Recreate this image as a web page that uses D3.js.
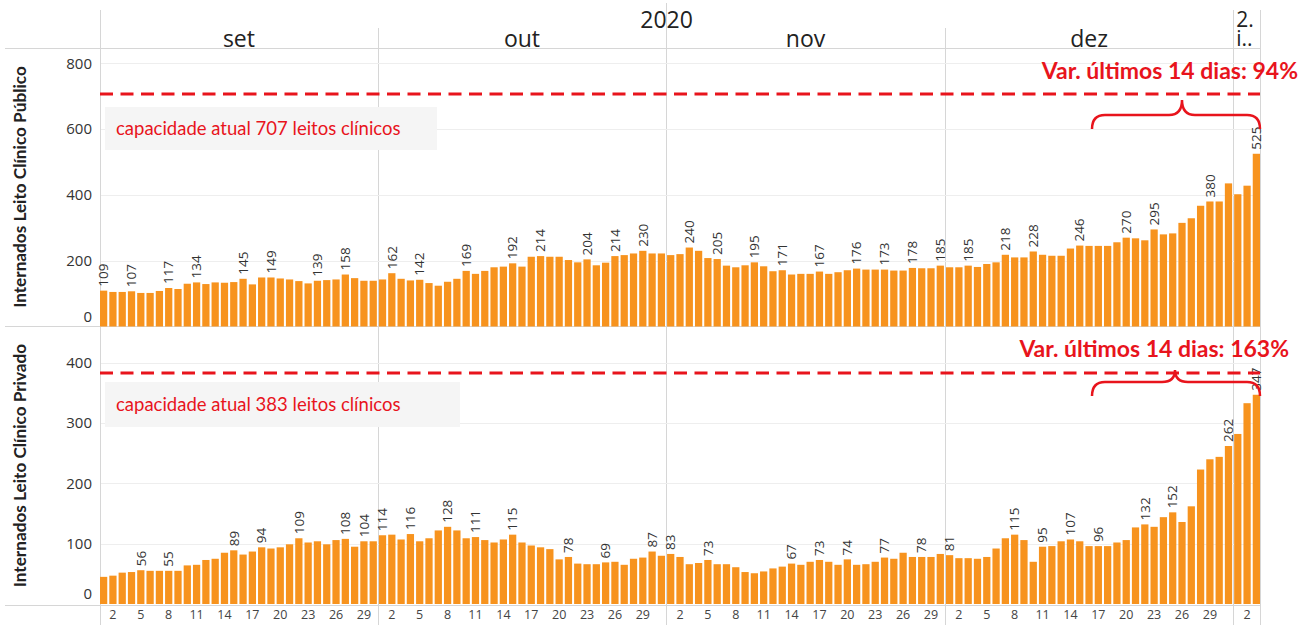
<!DOCTYPE html>
<html>
<head>
<meta charset="utf-8">
<script src="https://cdn.jsdelivr.net/npm/d3@7"></script>
<style>
  body { margin: 0; background: #fff; }
  svg { display: block; }
</style>
</head>
<body>
<svg id="chart" width="1311" height="625"></svg>
<script>
// daily values, 1 set 2020 .. 3 jan 2021
var publico = [
  109, 105, 105, 107, 102, 102, 108, 117, 114, 130,
  134, 129, 134, 133, 135, 145, 128, 149, 149, 146,
  143, 138, 131, 139, 141, 143, 158, 147, 139, 139,
  143, 162, 145, 140, 142, 132, 124, 136, 145, 169,
  160, 169, 180, 182, 192, 182, 212, 214, 212, 212,
  202, 195, 204, 186, 194, 214, 217, 222, 230, 222,
  222, 217, 220, 240, 230, 208, 205, 185, 180, 186,
  195, 183, 168, 171, 158, 160, 160, 167, 160, 165,
  171, 176, 173, 173, 173, 170, 170, 178, 177, 177,
  185, 180, 180, 185, 181, 190, 195, 218, 210, 210,
  228, 218, 215, 215, 237, 246, 245, 245, 245, 256,
  270, 268, 262, 295, 280, 283, 315, 329, 367, 380,
  380, 435, 402, 428, 525
];
var privado = [
  45, 47, 52, 53, 56, 55, 55, 55, 55, 64,
  65, 73, 75, 85, 89, 82, 87, 94, 92, 94,
  99, 109, 102, 104, 99, 106, 108, 95, 104, 104,
  114, 115, 107, 116, 104, 109, 122, 128, 122, 109,
  111, 106, 102, 107, 115, 102, 97, 94, 91, 74,
  78, 67, 66, 66, 69, 70, 65, 75, 77, 87,
  80, 83, 78, 66, 68, 73, 66, 66, 61, 53,
  51, 54, 59, 62, 67, 65, 70, 73, 70, 65,
  74, 65, 66, 70, 77, 75, 85, 78, 78, 78,
  83, 81, 76, 76, 75, 78, 92, 109, 115, 106,
  70, 95, 96, 104, 107, 104, 96, 96, 96, 102,
  106, 127, 132, 128, 144, 152, 136, 162, 223, 240,
  244, 262, 282, 333, 347
];

// which days carry a value label (index into the arrays above)
var labelsPublico = [0, 3, 7, 10, 15, 18, 23, 26, 31, 34, 39, 44, 47, 52, 55, 58, 63, 66, 70,
  73, 77, 81, 84, 87, 90, 93, 97, 100, 105, 110, 113, 119, 124];
var labelsPrivado = [4, 7, 14, 17, 21, 26, 28, 30, 33, 37, 40, 44, 50, 54, 59, 61, 65, 74, 77,
  80, 84, 88, 91, 98, 101, 104, 107, 112, 115, 121, 124];

var monthNames = ["set", "out", "nov", "dez", "i.."];
var yearNames = ["2020", "2."];
var ticksPublico = [0, 200, 400, 600, 800];
var ticksPrivado = [0, 100, 200, 300, 400];
var dayTicks = [2, 5, 8, 11, 14, 17, 20, 23, 26, 29];
var capPublico = 707, capPrivado = 383;
var varPublico = "Var. últimos 14 dias: 94%";
var varPrivado = "Var. últimos 14 dias: 163%";

var days = d3.timeDay.range(new Date(2020, 8, 1), new Date(2021, 0, 4));

var svg = d3.select("#chart");
var W = 1311, H = 625;
var left = 100, right = 1260;
var lineCol = "#d6d6d6", red = "#e8141c", orange = "#f7931e", txt = "#333";

var x = d3.scaleBand()
    .domain(d3.range(days.length))
    .range([left, right])
    .paddingInner(0.22)
    .paddingOuter(0)
    .align(0);
var gap = x.step() - x.bandwidth();

var panels = [
  { title: "Internados Leito Clínico Público", values: publico, labels: labelsPublico,
    ticks: ticksPublico, top: 48, bottom: 326,
    y: d3.scaleLinear().domain([0, 800]).range([326.5, 63.3]),
    cap: capPublico, capText: "capacidade atual " + capPublico + " leitos clínicos",
    box: [105, 107, 332, 43], varText: varPublico, varX: 1298, varY: 79,
    brace: { x1: 1092, x2: 1260, tip: 1182, yt: 100, ym: 115, yb: 129 } },
  { title: "Internados Leito Clínico Privado", values: privado, labels: labelsPrivado,
    ticks: ticksPrivado, top: 326, bottom: 605,
    y: d3.scaleLinear().domain([0, 400]).range([604, 362.8]),
    cap: capPrivado, capText: "capacidade atual " + capPrivado + " leitos clínicos",
    box: [105, 382, 355, 45], varText: varPrivado, varX: 1289, varY: 357,
    brace: { x1: 1092, x2: 1260, tip: 1175, yt: 370, ym: 382, yb: 396 } }
];

// header: year + month names
var monthStarts = [];
days.forEach(function(d, i) { if (d.getDate() === 1) monthStarts.push(i); });
var bandLeft = function(i) { return i >= days.length ? right : x(i) - (i === 0 ? 0 : gap / 2); };

var head = svg.append("g").attr("font-family", "'Open Sans', sans-serif").attr("fill", "#222");
var janX = bandLeft(monthStarts[4]);
head.append("text").attr("x", (left + janX) / 2).attr("y", 28)
    .attr("text-anchor", "middle").attr("font-size", 23).text(yearNames[0]);
head.append("text").attr("x", janX + 3).attr("y", 27).attr("font-size", 21).text(yearNames[1]);
monthStarts.forEach(function(s, k) {
  var x0 = bandLeft(s), x1 = bandLeft(k + 1 < monthStarts.length ? monthStarts[k + 1] : days.length);
  if (k < 4) {
    head.append("text").attr("x", (x0 + x1) / 2).attr("y", 47)
        .attr("text-anchor", "middle").attr("font-size", 23).text(monthNames[k]);
  } else {
    head.append("text").attr("x", x0 + 3).attr("y", 46).attr("font-size", 21).text(monthNames[k]);
  }
});

// frame lines
var frame = svg.append("g").attr("stroke", lineCol).attr("stroke-width", 1).attr("shape-rendering", "crispEdges");
[48, 326, 605].forEach(function(yy) {
  frame.append("line").attr("x1", 5).attr("x2", right).attr("y1", yy).attr("y2", yy);
});
frame.append("line").attr("x1", left).attr("x2", left).attr("y1", 10).attr("y2", H);
frame.append("line").attr("x1", right).attr("x2", right).attr("y1", 10).attr("y2", H);
monthStarts.slice(1).forEach(function(s, k) {
  var xx = Math.round(bandLeft(s)) + 0.5;
  var y0 = (k === 1) ? 3 : (k === 3 ? 10 : 28);
  frame.append("line").attr("x1", xx).attr("x2", xx).attr("y1", y0).attr("y2", H);
});

panels.forEach(function(p) {
  var g = svg.append("g");

  // gridlines
  g.append("g").selectAll("line").data(p.ticks.slice(1)).join("line")
      .attr("x1", left + 1).attr("x2", right)
      .attr("y1", function(d) { return Math.round(p.y(d)) + 0.5; })
      .attr("y2", function(d) { return Math.round(p.y(d)) + 0.5; })
      .attr("stroke", "#eeeeee");

  // y axis
  var ax = g.append("g").attr("transform", "translate(92,0)")
      .call(d3.axisLeft(p.y).tickValues(p.ticks).tickSize(0).tickPadding(0));
  ax.select(".domain").remove();
  ax.selectAll("text")
      .attr("font-family", "'Open Sans', sans-serif").attr("font-size", 15).attr("fill", txt)
      .attr("dy", function(d) { return d === 0 ? "-0.35em" : "0.32em"; });

  // axis title
  g.append("text")
      .attr("transform", "translate(20," + ((p.top + p.bottom) / 2) + ") rotate(-90)")
      .attr("text-anchor", "middle").attr("dy", "0.35em")
      .attr("font-family", "Lato, sans-serif").attr("font-weight", "bold")
      .attr("font-size", 17.2).attr("fill", "#222")
      .text(p.title);

  // capacity box + text
  g.append("rect").attr("x", p.box[0]).attr("y", p.box[1]).attr("width", p.box[2]).attr("height", p.box[3])
      .attr("fill", "#f5f5f5");
  g.append("text").attr("x", p.box[0] + 11).attr("y", p.box[1] + p.box[3] / 2).attr("dy", "0.35em")
      .attr("font-family", "Lato, sans-serif").attr("font-size", 18.5).attr("fill", red)
      .text(p.capText);

  // bars
  g.append("g").selectAll("rect").data(p.values).join("rect")
      .attr("x", function(d, i) { return x(i); })
      .attr("width", x.bandwidth())
      .attr("y", function(d) { return p.y(d); })
      .attr("height", function(d) { return p.y(0) - p.y(d); })
      .attr("fill", orange);

  // bar labels
  g.append("g").selectAll("text").data(p.labels).join("text")
      .attr("transform", function(i) {
        return "translate(" + (x(i) + x.bandwidth() / 2) + "," + (p.y(p.values[i]) - 4) + ") rotate(-90)";
      })
      .attr("dy", "0.35em")
      .attr("font-family", "'Open Sans', sans-serif").attr("font-size", 13.5).attr("fill", txt)
      .text(function(i) { return p.values[i]; });

  // capacity line
  g.append("line").attr("x1", left).attr("x2", right)
      .attr("y1", p.y(p.cap)).attr("y2", p.y(p.cap))
      .attr("stroke", red).attr("stroke-width", 3).attr("stroke-dasharray", "13,7.5");

  // brace + variation text
  var b = p.brace, r = 13;
  var path = "M" + b.x1 + "," + b.yb +
    " Q" + b.x1 + "," + b.ym + " " + (b.x1 + r) + "," + b.ym +
    " L" + (b.tip - r) + "," + b.ym +
    " Q" + b.tip + "," + b.ym + " " + b.tip + "," + b.yt +
    " Q" + b.tip + "," + b.ym + " " + (b.tip + r) + "," + b.ym +
    " L" + (b.x2 - r) + "," + b.ym +
    " Q" + b.x2 + "," + b.ym + " " + b.x2 + "," + b.yb;
  g.append("path").attr("d", path).attr("fill", "none")
      .attr("stroke", red).attr("stroke-width", 2.5);
  g.append("text").attr("x", p.varX).attr("y", p.varY).attr("text-anchor", "end")
      .attr("font-family", "Lato, sans-serif").attr("font-weight", "bold")
      .attr("font-size", 23).attr("fill", red)
      .text(p.varText);
});

// day ticks at the bottom
var xa = svg.append("g").attr("transform", "translate(0,606)")
    .call(d3.axisBottom(x)
      .tickValues(d3.range(days.length).filter(function(i) { return dayTicks.indexOf(days[i].getDate()) >= 0; }))
      .tickFormat(function(i) { return days[i].getDate(); })
      .tickSize(0).tickPadding(4));
xa.select(".domain").remove();
xa.selectAll("text").attr("font-family", "'Open Sans', sans-serif").attr("font-size", 12.5).attr("fill", "#444");
</script>
</body>
</html>
